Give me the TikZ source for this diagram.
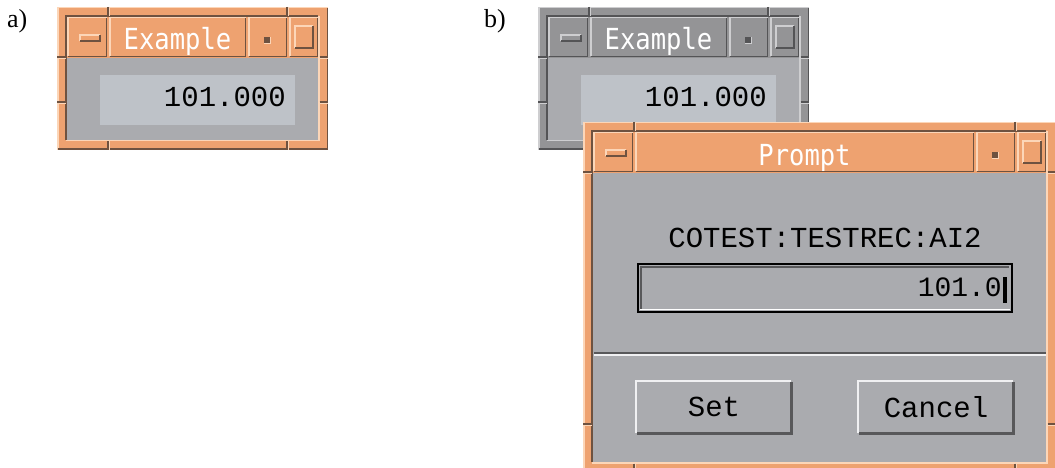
\documentclass[tikz,border=0pt]{standalone}
\usepackage{fontspec}
\setmainfont{Liberation Serif}
\newfontfamily\guimono{Liberation Mono}
\newfontfamily\guititle{DejaVu Sans Mono}

% window colour sets: face, light and dark edge
\definecolor{actface}{RGB}{238,162,112}
\definecolor{actlite}{RGB}{252,214,184}
\definecolor{actdark}{RGB}{110,82,64}
\definecolor{inaface}{RGB}{148,148,150}
\definecolor{inalite}{RGB}{206,206,208}
\definecolor{inadark}{RGB}{84,84,86}
\definecolor{clientgrey}{RGB}{170,171,175}
\definecolor{fieldgrey}{RGB}{190,194,200}
\definecolor{bevlite}{RGB}{240,240,242}
\definecolor{bevdark}{RGB}{88,88,90}

\tikzset{
  bevel/.style={line width=1.5pt},
  guitext/.style={inner sep=0pt, font=\guimono\fontsize{29}{30}\selectfont},
  titletext/.style={inner sep=0pt, text=white, xscale=0.88,
    font=\guititle\fontsize{29}{30}\selectfont},
  panelmark/.style={inner sep=0pt, font=\fontsize{26}{28}\selectfont}
}

% window frame with title bar: x, y, width, height, colour set, title, node name
\newcommand{\motifwin}[7]{%
  \begin{scope}[shift={(#1,#2)}]
    \pgfmathsetmacro\winR{#3-10}
    \pgfmathsetmacro\winB{#4-10}
    \pgfmathsetmacro\winT{(52+\winR-72)/2}
    % frame
    \fill[#5face] (0,0) rectangle (#3,#4);
    \draw[bevel,#5lite] (0.75,#4) -- (0.75,0.75) -- (#3,0.75);
    \draw[bevel,#5dark] (0.75,#4-0.75) -- (#3-0.75,#4-0.75) -- (#3-0.75,0.75);
    \draw[line width=2pt,#5dark] (9,\winB) -- (9,9) -- (\winR,9);
    \draw[bevel,#5lite] (9.25,\winB+0.75) -- (\winR+0.75,\winB+0.75) -- (\winR+0.75,9.25);
    % corner notches
    \foreach \n in {51,#3-41} {
      \draw[bevel,#5dark] (\n,0) -- (\n,9);
      \draw[bevel,#5lite] (\n+1.5,0) -- (\n+1.5,9);
      \draw[bevel,#5dark] (\n,\winB+1.5) -- (\n,#4);
      \draw[bevel,#5lite] (\n+1.5,\winB+1.5) -- (\n+1.5,#4);
    }
    \foreach \n in {50,#4-48} {
      \draw[bevel,#5dark] (0,\n) -- (9,\n);
      \draw[bevel,#5lite] (0,\n+1.5) -- (9,\n+1.5);
      \draw[bevel,#5dark] (\winR+1.5,\n) -- (#3,\n);
      \draw[bevel,#5lite] (\winR+1.5,\n+1.5) -- (#3,\n+1.5);
    }
    % title bar segments
    \foreach \sa/\sb in {10/50, 52/\winR-72, \winR-70/\winR-31, \winR-29/\winR} {
      \draw[bevel,#5lite] (\sa+0.75,49.5) -- (\sa+0.75,10.75) -- (\sb,10.75);
      \draw[bevel,#5dark] (\sa+0.75,49.75) -- (\sb-0.75,49.75) -- (\sb-0.75,10.75);
    }
    % menu, iconify and maximize glyphs
    \draw[bevel,#5lite] (23,34) -- (23,28) -- (43,28);
    \draw[bevel,#5dark] (23,34) -- (43,34) -- (43,28);
    \fill[#5dark] (\winR-54,30) rectangle (\winR-48,36);
    \draw[#5lite] (\winR-54,36) -- (\winR-48,36) -- (\winR-48,30);
    \draw[bevel,#5lite] (\winR-23,41) -- (\winR-23,19) -- (\winR-5,19);
    \draw[bevel,#5dark] (\winR-23,41) -- (\winR-5,41) -- (\winR-5,19);
    % title
    \node[titletext, anchor=base] (#7) at (\winT,43) {#6};
    % client area
    \fill[clientgrey] (10,51.5) rectangle (\winR,\winB);
  \end{scope}}

\begin{document}
\begin{tikzpicture}[x=1pt,y=-1pt]
  \clip (0,0) rectangle (1055,468);
  \fill[white] (0,0) rectangle (1055,468);

  % panel marks
  \node[panelmark, anchor=base west] (mark a) at (7,28) {a)};
  \node[panelmark, anchor=base west] (mark b) at (484,28) {b)};

  % a) window on its own
  \motifwin{57}{7}{271}{143}{act}{Example}{title a}
  \fill[fieldgrey] (100,75) rectangle (295,125);
  \node[guitext, anchor=east] (value a) at (286,97) {101.000};

  % b) same window, inactive, under the prompt
  \motifwin{538}{7}{271}{143}{ina}{Example}{title b}
  \fill[fieldgrey] (581,75) rectangle (776,125);
  \node[guitext, anchor=east] (value b) at (767,97) {101.000};

  \motifwin{583}{122}{473}{350}{act}{Prompt}{title prompt}
  \node[guitext] (pvname) at (825,238) {COTEST:TESTREC:AI2};

  % entry field
  \fill[clientgrey] (637,263) rectangle (1013,313);
  \draw[line width=2.5pt,bevdark] (641,309) -- (641,267) -- (1009,267);
  \draw[bevel,white] (640,309.5) -- (1010,309.5);
  \draw[line width=2pt,black] (638,264) rectangle (1012,312);
  \node[guitext, anchor=east, font=\guimono\fontsize{28}{30}\selectfont] (entry) at (1002,287) {101.0};
  \fill[black] (1003,277) rectangle (1006.5,303);

  % separator
  \draw[bevel,bevdark] (594,353) -- (1046,353);
  \draw[bevel,bevlite] (594,355) -- (1046,355);

  % buttons
  \foreach \bx/\bname/\btext in {635/set/Set, 857/cancel/Cancel} {
    \draw[line width=3pt,bevdark] (\bx+1.5,433.5) -- (\bx+156.5,433.5) -- (\bx+156.5,381.5);
    \draw[line width=2pt,bevlite] (\bx+1,433) -- (\bx+1,381) -- (\bx+156,381);
    \node[guitext] (\bname) at (\bx+79,407) {\btext};
  }
\end{tikzpicture}
\end{document}
